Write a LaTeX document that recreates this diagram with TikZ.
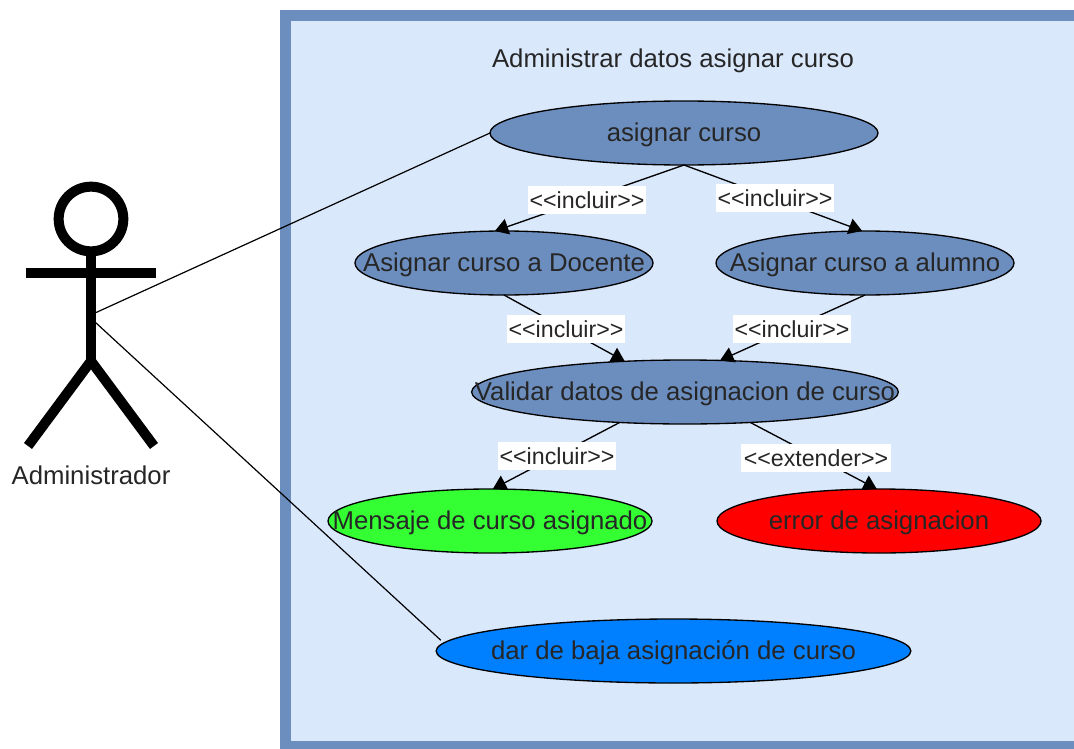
\documentclass[tikz,border=0pt]{standalone}
\usepackage{fontspec}
\setmainfont{Liberation Sans}
\usetikzlibrary{shapes.geometric,arrows.meta}
\definecolor{boxfill}{HTML}{DAE8FC}
\definecolor{boxline}{HTML}{6C8EBF}
\definecolor{okgreen}{HTML}{33FF33}
\definecolor{baja}{HTML}{007FFF}
\newcommand{\uctext}[1]{\makebox[0pt][c]{\raisebox{-6.7pt}[0pt][0pt]{#1}}}
\tikzset{
  x=0.75pt,y=-0.75pt,
  usecase/.style={draw=black,line width=1pt,ellipse,inner sep=0pt,outer sep=0pt,minimum height=48pt,fill=boxline,font=\fontsize{19.3}{21}\selectfont,text=black!85},
  lbl/.style={fill=white,inner sep=0pt,minimum width=88.5pt,minimum height=21pt,font=\fontsize{17.4}{19}\selectfont,text=black!85},
  inc/.style={draw=black,line width=1pt,-{Triangle[length=10pt,width=12pt]}},
  assoc/.style={draw=black,line width=0.9pt},
  limb/.style={draw=black,line width=7.5pt},
  plain/.style={font=\fontsize{19.3}{21}\selectfont,text=black!85},
}
\begin{document}
\begin{tikzpicture}
\useasboundingbox (0,0) rectangle (1074,749);
\fill[white] (0,0) rectangle (1074,749);
\begin{scope}
\clip (0,0) rectangle (1074,749);
\draw[fill=boxfill,draw=boxline,line width=8.25pt] (285.5,15.5) rectangle (1100,746);
\end{scope}
\node[plain] (title) at (673,60.5) {Administrar datos asignar curso};
\node[usecase,minimum width=291pt] (a) at (684,133) {\uctext{asignar curso}};
\node[usecase,minimum width=223.5pt] (d) at (504,263) {\uctext{Asignar curso a Docente}};
\node[usecase,minimum width=223.5pt] (e) at (865,263) {\uctext{Asignar curso a alumno}};
\node[usecase,minimum width=320pt] (v) at (685,392) {\uctext{Validar datos de asignacion de curso}};
\node[usecase,minimum width=243pt,fill=okgreen] (m) at (490,521) {\uctext{Mensaje de curso asignado}};
\node[usecase,minimum width=243pt,fill=red] (r) at (879,521) {\uctext{error de asignacion}};
\node[usecase,minimum width=356pt,fill=baja] (b) at (673.5,651) {\uctext{dar de baja asignación de curso}};
% actor
\node[circle,draw=black,line width=7.5pt,minimum size=48.5pt,inner sep=0pt] (head) at (91,219) {};
\coordinate (hip) at (91,361);
\coordinate (armL) at (26,273);
\coordinate (armR) at (156,273);
\coordinate (footL) at (28,446);
\coordinate (footR) at (154,446);
\coordinate (hand1) at (95,313);
\coordinate (hand2) at (95,322);
\draw[limb] (head.south) -- (hip);
\draw[limb] (armL) -- (armR);
\draw[limb,line join=miter] (footL) -- (hip) -- (footR);
\node[plain] (adm) at (91,475) {Administrador};
% connectors
\draw[assoc] (hand1) -- (a.west);
\draw[assoc,shorten >=3pt] (hand2) -- (b.178);
\draw[inc] (a.south) -- (d.106);
\draw[inc] (a.south) -- (e.95);
\draw[inc] (d.south) -- (v.153);
\draw[inc] (e.south) -- (v.42);
\draw[inc] (v.205.5) -- (m.85);
\draw[inc] (v.335.3) -- (r.94);
\node[lbl] (l1) at (587,200) {<{}<incluir>{}>};
\node[lbl] (l2) at (775,198) {<{}<incluir>{}>};
\node[lbl] (l3) at (566,329) {<{}<incluir>{}>};
\node[lbl] (l4) at (792,329) {<{}<incluir>{}>};
\node[lbl] (l5) at (557,456) {<{}<incluir>{}>};
\node[lbl,minimum width=112pt] (l6) at (816,458) {<{}<extender>{}>};
\end{tikzpicture}
\end{document}
